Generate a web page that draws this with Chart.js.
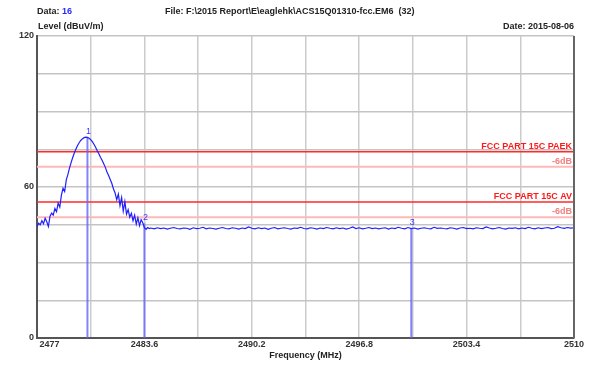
<!DOCTYPE html>
<html>
<head>
<meta charset="utf-8">
<script src="https://cdn.jsdelivr.net/npm/chart.js@4.4.1/dist/chart.umd.min.js"></script>
<style>
    html, body { margin: 0; padding: 0; background: #fff; }
    #wrap { width: 593px; height: 367px; position: relative; }
</style>
</head>
<body>
<div id="wrap"><canvas id="myChart" width="593" height="367"></canvas></div>
<script>
// sweep 1: 2477.0 .. 2484.0 MHz, 0.1 MHz steps
const sweepA_start = 2477.0;
const sweepA_step = 0.1;
const sweepA_level = [
    44.2, 45.6, 45.0, 46.6, 45.4, 47.6, 46.2, 44.3, 48.4, 49.6,
    48.8, 51.5, 50.2, 53.6, 52.0, 56.8, 59.5, 58.2, 62.8, 65.0,
    67.6, 69.8, 71.8, 73.6, 75.2, 76.6, 77.7, 78.6, 79.2, 79.6,
    79.8, 79.7, 79.4, 78.8, 78.0, 77.0, 75.8, 74.4, 73.2, 71.8,
    70.6, 69.2, 67.8, 66.0, 64.6, 63.0, 61.4, 59.2, 57.6, 55.0,
    57.2, 52.6, 55.8, 50.4, 54.2, 49.2, 51.0, 48.0, 49.6, 46.6,
    48.8, 45.2, 47.8, 44.6, 47.0, 45.8, 43.8, 43.2, 43.9, 43.5,
    43.7,
];

// sweep 2: 2484.2 .. 2510.0 MHz, 0.2 MHz steps
const sweepB_start = 2484.2;
const sweepB_step = 0.2;
const sweepB_level = [
    43.4, 43.8, 43.5, 43.7, 43.3, 43.6, 43.9, 43.5, 43.4, 43.7,
    43.6, 43.2, 43.8, 43.5, 43.6, 44.0, 43.4, 43.7, 43.5, 43.3,
    43.6, 43.9, 43.5, 43.4, 43.8, 43.6, 43.3, 43.7, 43.5, 44.1,
    43.6, 43.4, 43.8, 43.5, 43.7, 43.2, 43.6, 43.9, 43.4, 43.6,
    43.8, 43.5, 43.3, 43.7, 43.6, 44.0, 43.5, 43.4, 43.8, 43.6,
    43.3, 43.7, 43.5, 43.9, 43.6, 43.4, 43.8, 43.5, 43.7, 43.3,
    43.6, 44.1, 43.5, 43.8, 43.4, 43.6, 43.9, 43.5, 43.7, 43.4,
    43.6, 43.8, 43.3, 43.7, 43.5, 44.0, 43.6, 43.4, 43.9, 43.5,
    43.7, 43.3, 43.6, 43.8, 43.5, 43.4, 44.0, 43.6, 43.7, 43.5,
    43.4, 43.8, 43.6, 43.3, 43.7, 43.9, 43.5, 43.6, 43.4, 43.8,
    43.6, 43.5, 44.1, 43.7, 43.4, 43.6, 43.9, 43.5, 43.3, 43.7,
    43.6, 43.8, 43.4, 43.7, 43.5, 44.0, 43.6, 43.4, 43.8, 43.5,
    43.7, 43.9, 43.5, 43.6, 44.2, 43.8, 43.6, 43.9, 43.7, 43.8,
];

// markers
const markerNames = ["1", "2", "3"];
const markerFreq = [2480.1, 2483.6, 2500.0];
const markerLevel = [79.8, 45.5, 43.7];

// limit lines
const limitNames = ["FCC PART 15C PAEK", "-6dB", "FCC PART 15C AV", "-6dB"];
const limitLevel = [74, 68, 54, 48];
const limitMain = [true, false, true, false];

// axes
const freqTicks = [2477, 2480.3, 2483.6, 2486.9, 2490.2, 2493.5, 2496.8, 2500.1, 2503.4, 2506.7, 2510];
const freqLabels = ["2477", "", "2483.6", "", "2490.2", "", "2496.8", "", "2503.4", "", "2510"];
const levelLabels = { 0: "0", 60: "60", 120: "120" };

const trace = [];
sweepA_level.forEach((v, i) => trace.push({ x: sweepA_start + i * sweepA_step, y: v }));
sweepB_level.forEach((v, i) => trace.push({ x: sweepB_start + i * sweepB_step, y: v }));

const FONT = "'Liberation Sans', Arial, sans-serif";

const decorPlugin = {
    id: "decor",
    beforeDatasetsDraw(chart) {
        const ctx = chart.ctx;
        const xs = chart.scales.x;
        const ys = chart.scales.y;
        const area = chart.chartArea;
        ctx.save();
        // limit lines
        limitLevel.forEach((lv, i) => {
            const y = ys.getPixelForValue(lv);
            ctx.strokeStyle = limitMain[i] ? "#ff2a2a" : "#ffb8b8";
            ctx.lineWidth = limitMain[i] ? 1.5 : 2;
            ctx.beginPath();
            ctx.moveTo(area.left, y);
            ctx.lineTo(area.right, y);
            ctx.stroke();
            ctx.font = "bold 9px " + FONT;
            ctx.textAlign = "right";
            ctx.textBaseline = "bottom";
            ctx.fillStyle = limitMain[i] ? "#ff1a1a" : "#f08080";
            ctx.fillText(limitNames[i], area.right - 2, y - 1);
        });
        // marker lines
        markerFreq.forEach((f, i) => {
            const x = xs.getPixelForValue(f);
            const y = ys.getPixelForValue(markerLevel[i]);
            ctx.strokeStyle = "rgba(100,100,255,0.8)";
            ctx.lineWidth = 2;
            ctx.beginPath();
            ctx.moveTo(x, area.bottom);
            ctx.lineTo(x, y);
            ctx.stroke();
            ctx.fillStyle = "#3a3aff";
            ctx.font = "9px " + FONT;
            ctx.textAlign = "center";
            ctx.textBaseline = "bottom";
            ctx.fillText(markerNames[i], x + 1, y - 1);
        });
        ctx.restore();
    },
    afterDraw(chart) {
        const ctx = chart.ctx;
        const area = chart.chartArea;
        ctx.save();
        ctx.font = "bold 9px " + FONT;
        ctx.textBaseline = "middle";
        ctx.textAlign = "left";
        ctx.fillStyle = "#222";
        ctx.fillText("Data:", 37, 12);
        const w = ctx.measureText("Data: ").width;
        ctx.fillStyle = "#2a2aff";
        ctx.fillText("16", 37 + w, 12);
        ctx.fillStyle = "#222";
        ctx.fillText("File: F:\\2015 Report\\E\\eaglehk\\ACS15Q01310-fcc.EM6  (32)", 165, 12, 262);
        ctx.fillText("Level (dBuV/m)", 38, 27);
        ctx.textAlign = "right";
        ctx.fillText("Date: 2015-08-06", area.right, 27);
        ctx.textAlign = "center";
        ctx.fillText("Frequency (MHz)", (area.left + area.right) / 2, 356);
        // right frame edge
        ctx.strokeStyle = "#666";
        ctx.lineWidth = 2;
        ctx.beginPath();
        ctx.moveTo(area.right, area.top);
        ctx.lineTo(area.right, area.bottom);
        ctx.stroke();
        ctx.restore();
    },
};

document.addEventListener("DOMContentLoaded", function () {
    const ctx = document.getElementById("myChart");
    new Chart(ctx, {
        type: "line",
        data: {
            datasets: [
                {
                    label: "Level",
                    data: trace,
                    borderColor: "#1f1fff",
                    borderWidth: 1.2,
                    pointRadius: 0,
                    tension: 0,
                    fill: false,
                },
            ],
        },
        options: {
            responsive: false,
            animation: false,
            events: [],
            layout: { padding: { left: 0, right: 19, top: 36, bottom: 0 } },
            plugins: { legend: { display: false }, tooltip: { enabled: false } },
            scales: {
                x: {
                    type: "linear",
                    min: 2477,
                    max: 2510,
                    afterBuildTicks: (axis) => {
                        axis.ticks = freqTicks.map((v) => ({ value: v }));
                    },
                    afterFit: (axis) => { axis.height = 29; },
                    ticks: {
                        autoSkip: false,
                        maxRotation: 0,
                        padding: 1,
                        color: "#333",
                        font: { family: FONT, size: 9, weight: "bold" },
                        // first label sits just right of the axis, as in the original plot
                        callback: (v, i) => (i === 0 ? "          " + freqLabels[i] : freqLabels[i]),
                    },
                    grid: { color: "#cccccc", lineWidth: 1.5, drawTicks: false },
                    border: { color: "#555", width: 2 },
                },
                y: {
                    min: 0,
                    max: 120,
                    afterFit: (axis) => { axis.width = 37; },
                    ticks: {
                        stepSize: 15,
                        padding: 3,
                        color: "#333",
                        font: { family: FONT, size: 9, weight: "bold" },
                        callback: (v) => levelLabels[v] || "",
                    },
                    grid: { color: "#c4c4c4", lineWidth: 1.5, drawTicks: false },
                    border: { color: "#555", width: 2 },
                },
            },
        },
        plugins: [decorPlugin],
    });
});
</script>
</body>
</html>
